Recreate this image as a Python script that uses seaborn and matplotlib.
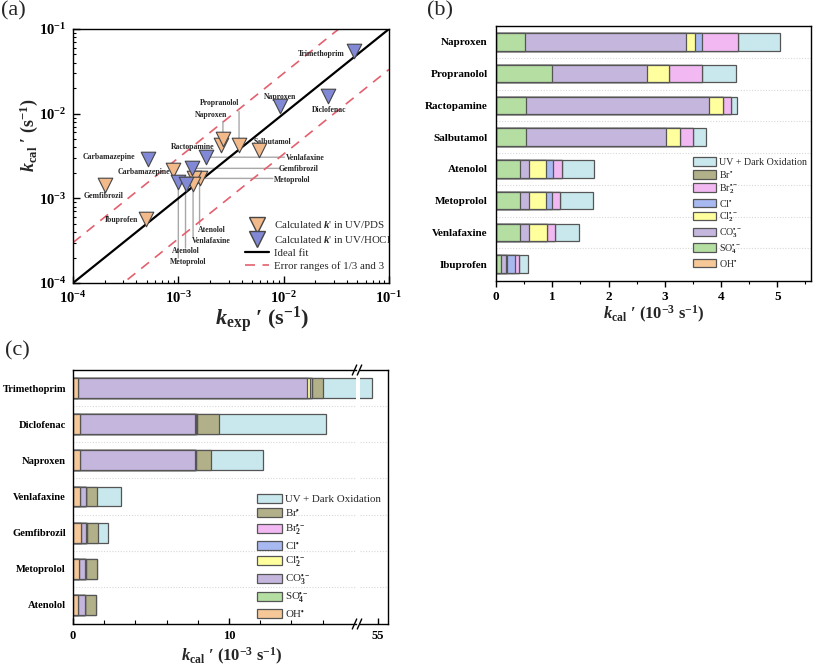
import matplotlib
matplotlib.use("Agg")
import numpy as np
import pandas as pd
import matplotlib.pyplot as plt
import seaborn as sns
from matplotlib.patches import Patch
from matplotlib.lines import Line2D
from matplotlib.ticker import FixedLocator, LogLocator, NullFormatter

# ---------------- data: panel (a) ----------------
pds_names = ["Gemfibrozil", "Ibuprofen", "Carbamazepine", "Ractopamine", "Naproxen",
             "Propranolol", "Salbutamol", "Atenolol", "Metoprolol", "Venlafaxine"]
pds_kexp = [2.0e-4, 4.9e-4, 8.9e-4, 2.56e-3, 2.65e-3, 3.77e-3, 5.8e-3, 1.59e-3, 1.41e-3, 1.38e-3]
pds_kcal = [1.43e-3, 5.7e-4, 2.18e-3, 4.29e-3, 5.04e-3, 4.26e-3, 3.73e-3, 1.75e-3, 1.72e-3, 1.47e-3]

hocl_names = ["Trimethoprim", "Diclofenac", "Naproxen", "Carbamazepine", "Venlafaxine",
              "Gemfibrozil", "Metoprolol", "Atenolol"]
hocl_kexp = [0.047, 0.0265, 9.2e-3, 5.1e-4, 1.84e-3, 1.34e-3, 1.0e-3, 1.17e-3]
hocl_kcal = [0.0547, 0.0162, 0.0122, 2.9e-3, 3.06e-3, 2.26e-3, 1.54e-3, 1.47e-3]

ref_x = [1e-4, 1e-1]

# ---------------- data: panel (b) (UV/PDS, 1e-3 s^-1) ----------------
b_categories = ["Naproxen", "Propranolol", "Ractopamine", "Salbutamol",
                "Atenolol", "Metoprolol", "Venlafaxine", "Ibuprofen"]
b_OH  = [0.0, 0.0, 0.0, 0.0, 0.0, 0.0, 0.0, 0.0]
b_SO4 = [0.51, 0.99, 0.54, 0.54, 0.43, 0.43, 0.43, 0.095]
b_CO3 = [2.86, 1.69, 3.25, 2.48, 0.16, 0.15, 0.16, 0.085]
b_Cl2 = [0.17, 0.39, 0.25, 0.25, 0.30, 0.31, 0.32, 0.01]
b_Cl  = [0.12, 0.0, 0.0, 0.0, 0.13, 0.10, 0.0, 0.15]
b_Br2 = [0.65, 0.59, 0.13, 0.24, 0.15, 0.15, 0.13, 0.06]
b_Br  = [0.0, 0.0, 0.0, 0.0, 0.0, 0.0, 0.0, 0.0]
b_UV  = [0.73, 0.60, 0.12, 0.22, 0.58, 0.58, 0.43, 0.17]

# ---------------- data: panel (c) (UV/HOCl, 1e-3 s^-1) ----------------
c_categories = ["Trimethoprim", "Diclofenac", "Naproxen", "Venlafaxine",
                "Gemfibrozil", "Metoprolol", "Atenolol"]
c_OH  = [0.32, 0.42, 0.42, 0.42, 0.50, 0.40, 0.35]
c_SO4 = [0.0, 0.0, 0.0, 0.0, 0.0, 0.0, 0.0]
c_CO3 = [14.70, 7.38, 7.38, 0.39, 0.35, 0.39, 0.40]
c_Cl2 = [0.17, 0.08, 0.0, 0.0, 0.0, 0.0, 0.0]
c_Cl  = [0.10, 0.06, 0.06, 0.05, 0.04, 0.04, 0.04]
c_Br2 = [0.0, 0.0, 0.0, 0.0, 0.0, 0.0, 0.0]
c_Br  = [0.71, 1.44, 0.96, 0.66, 0.69, 0.71, 0.68]
c_UV  = [38.6, 6.82, 3.34, 1.54, 0.68, 0.0, 0.0]

components = ["OH", "SO4", "CO3", "Cl2", "Cl", "Br2", "Br", "UV"]
comp_labels = {
    "UV": "UV + Dark Oxidation",
    "Br": r"Br$^{•}$",
    "Br2": r"Br$_2^{•-}$",
    "Cl": r"Cl$^{•}$",
    "Cl2": r"Cl$_2^{•-}$",
    "CO3": r"CO$_3^{•-}$",
    "SO4": r"SO$_4^{•-}$",
    "OH": r"OH$^{•}$",
}
comp_colors = {
    "UV": "#c8e8ee",
    "Br": "#b2b088",
    "Br2": "#f2b8f2",
    "Cl": "#a8b8f0",
    "Cl2": "#ffff9e",
    "CO3": "#c4b6dc",
    "SO4": "#b4dea2",
    "OH": "#f6c898",
}
EDGE = "#555555"

# ---------------- style ----------------
sns.set_theme(style="ticks")
plt.rcParams["font.family"] = ["Liberation Serif", "DejaVu Serif"]
plt.rcParams["font.weight"] = "bold"
plt.rcParams["axes.labelweight"] = "bold"
plt.rcParams["mathtext.fontset"] = "custom"
plt.rcParams["mathtext.rm"] = "Liberation Serif"
plt.rcParams["mathtext.it"] = "Liberation Serif:italic"
plt.rcParams["mathtext.bf"] = "Liberation Serif:bold"
plt.rcParams["mathtext.bfit"] = "Liberation Serif:bold:italic"
plt.rcParams["axes.edgecolor"] = "black"
plt.rcParams["axes.linewidth"] = 1.0
plt.rcParams["xtick.color"] = "black"
plt.rcParams["ytick.color"] = "black"

W, H = 813, 670
fig = plt.figure(figsize=(W / 100, H / 100), dpi=100)


def px_axes(l, t, r, b):
    return fig.add_axes([l / W, 1 - b / H, (r - l) / W, (b - t) / H])


# ================= panel (a) =================
axA = px_axes(73, 29, 389, 283)
sns.lineplot(x=ref_x, y=ref_x, color="black", lw=1.6, ax=axA, estimator=None, zorder=2)
sns.lineplot(x=ref_x, y=[3 * v for v in ref_x], color="#e4606e", lw=1.2, ax=axA,
             estimator=None, zorder=2).lines[-1].set_dashes((6, 4.5))
sns.lineplot(x=ref_x, y=[v / 3 for v in ref_x], color="#e4606e", lw=1.2, ax=axA,
             estimator=None, zorder=2).lines[-1].set_dashes((6, 4.5))

ORANGE = "#f2b98a"
BLUE = "#8189d6"
MEDGE = "#454545"
sns.scatterplot(x=pds_kexp, y=pds_kcal, marker="v", s=110, color=ORANGE,
                edgecolor=MEDGE, linewidth=0.8, ax=axA, legend=False, zorder=4)
sns.scatterplot(x=hocl_kexp, y=hocl_kcal, marker="v", s=110, color=BLUE,
                edgecolor=MEDGE, linewidth=0.8, ax=axA, legend=False, zorder=4)
axA.set_xscale("log")
axA.set_yscale("log")
axA.set_xlim(1e-4, 1e-1)
axA.set_ylim(1e-4, 1e-1)
for axis in (axA.xaxis, axA.yaxis):
    axis.set_major_locator(LogLocator(base=10, numticks=10))
    axis.set_minor_locator(LogLocator(base=10, subs=np.arange(2, 10), numticks=10))
    axis.set_minor_formatter(NullFormatter())
axA.tick_params(which="major", direction="in", length=5, width=1, labelsize=10.5, pad=5)
axA.tick_params(which="minor", direction="in", length=2.5, width=0.8)

# point labels (text centre positions)
pt_labels = [
    ("hocl", "Trimethoprim", 0.0225, 0.0507),
    ("hocl", "Naproxen", 9.17e-3, 0.0158),
    ("hocl", "Diclofenac", 0.0273, 0.0111),
    ("pds", "Propranolol", 2.47e-3, 0.0134),
    ("pds", "Naproxen", 2.06e-3, 9.7e-3),
    ("pds", "Ractopamine", 1.36e-3, 4.07e-3),
    ("pds", "Salbutamol", 7.8e-3, 4.59e-3),
    ("hocl", "Carbamazepine", 2.2e-4, 3.05e-3),
    ("pds", "Carbamazepine", 4.69e-4, 2.05e-3),
    ("pds", "Gemfibrozil", 1.93e-4, 1.08e-3),
    ("pds", "Ibuprofen", 2.88e-4, 5.6e-4),
    ("hocl", "Venlafaxine", 0.0162, 2.99e-3),
    ("hocl", "Gemfibrozil", 0.0140, 2.22e-3),
    ("pds", "Metoprolol", 0.0120, 1.65e-3),
    ("pds", "Atenolol", 2.07e-3, 4.19e-4),
    ("pds", "Venlafaxine", 2.07e-3, 3.16e-4),
    ("hocl", "Atenolol", 1.18e-3, 2.37e-4),
    ("hocl", "Metoprolol", 1.25e-3, 1.77e-4),
]
for ser, name, tx, ty in pt_labels:
    axA.text(tx, ty, name, fontsize=5.6, fontweight="bold", ha="center", va="center", zorder=3)

# leader lines: (series, name, orientation, end coordinate)
leaders = [
    ("pds", "Propranolol", "v", 0.0106),
    ("pds", "Naproxen", "v", 8.1e-3),
    ("pds", "Atenolol", "v", 4.9e-4),
    ("pds", "Venlafaxine", "v", 3.5e-4),
    ("hocl", "Atenolol", "v", 2.59e-4),
    ("hocl", "Metoprolol", "v", 1.97e-4),
    ("hocl", "Venlafaxine", "h", 0.0102),
    ("hocl", "Gemfibrozil", "h", 9.17e-3),
    ("pds", "Metoprolol", "h", 7.9e-3),
]
for ser, name, orient, end in leaders:
    names, xs, ys = (pds_names, pds_kexp, pds_kcal) if ser == "pds" else (hocl_names, hocl_kexp, hocl_kcal)
    i = names.index(name)
    mx, my = xs[i], ys[i]
    end_pt = (mx, end) if orient == "v" else (end, my)
    axA.annotate("", xy=(mx, my), xytext=end_pt,
                 arrowprops=dict(arrowstyle="-", color="#a8a8a8", lw=1.0, shrinkA=0, shrinkB=0),
                 zorder=1)

leg_handles = [
    Line2D([], [], marker="v", ls="none", markersize=11, markerfacecolor=ORANGE, markeredgecolor=MEDGE),
    Line2D([], [], marker="v", ls="none", markersize=11, markerfacecolor=BLUE, markeredgecolor=MEDGE),
    Line2D([], [], color="black", lw=1.6),
    Line2D([], [], color="#e4606e", lw=1.2, dashes=(6, 4.5)),
]
leg_labels = ["Calculated $k$' in UV/PDS", "Calculated $k$' in UV/HOCl",
              "Ideal fit", "Error ranges of 1/3 and 3"]
axA.legend(leg_handles, leg_labels, loc="upper left", bbox_to_anchor=(0.545, 0.25),
           frameon=False, prop={"size": 7.8, "weight": "normal"}, handlelength=2.2,
           handletextpad=0.5, labelspacing=0.3, borderpad=0, borderaxespad=0)
axA.set_xlabel(r"$\mathbfit{k}_{\mathbf{exp}}$ ′ (s$^{\mathbf{-1}}$)", fontsize=16)
axA.set_ylabel(r"$\mathbfit{k}_{\mathbf{cal}}$ ′ (s$^{\mathbf{-1}}$)", fontsize=13)
axA.xaxis.set_label_coords(0.6, -0.085)
axA.yaxis.set_label_coords(-0.105, 0.583)


# ================= stacked bar helper =================
def stacked(ax, cats, comp_vals):
    df = pd.DataFrame(comp_vals, index=cats)[components]
    cum = df.cumsum(axis=1)
    for comp in reversed(components):
        sub = pd.DataFrame({"cat": cats, "val": cum[comp].values})
        sns.barplot(data=sub, x="val", y="cat", order=cats, orient="h",
                    color=comp_colors[comp], edgecolor=EDGE, linewidth=0.9,
                    width=0.55, saturation=1, errorbar=None, ax=ax)
    n = len(cats)
    ax.set_ylim(n - 0.5 + 0.03, -0.5)
    ax.set_ylabel("")
    ax.set_xlabel("")
    ax.yaxis.set_minor_locator(FixedLocator([i + 0.5 for i in range(n - 1)]))
    ax.grid(which="minor", axis="y", ls=(0, (1, 1.5)), color="#d8d8d8", lw=0.8)
    ax.set_axisbelow(True)


def comp_legend_handles():
    order = list(reversed(components))
    hs = [Patch(facecolor=comp_colors[c], edgecolor=EDGE, linewidth=0.9) for c in order]
    ls = [comp_labels[c] for c in order]
    return hs, ls


# ================= panel (b) =================
axB = px_axes(496, 26, 811, 281)
b_vals = {"OH": b_OH, "SO4": b_SO4, "CO3": b_CO3, "Cl2": b_Cl2, "Cl": b_Cl,
          "Br2": b_Br2, "Br": b_Br, "UV": b_UV}
stacked(axB, b_categories, b_vals)
axB.set_xlim(0, 5.6)
axB.set_xticks([0, 1, 2, 3, 4, 5])
axB.xaxis.set_minor_locator(FixedLocator([0.5, 1.5, 2.5, 3.5, 4.5, 5.5]))
axB.tick_params(axis="x", which="major", direction="out", length=4, width=1, labelsize=9.5, pad=3)
axB.tick_params(axis="x", which="minor", direction="out", length=2.5, width=0.8)
axB.tick_params(axis="y", which="both", length=0, labelsize=8, pad=6)
hs, ls = comp_legend_handles()
axB.legend(hs, ls, loc="upper left", bbox_to_anchor=(0.625, 0.485), frameon=False,
           prop={"size": 7.2, "weight": "normal"}, handlelength=2.3, handleheight=0.9,
           handletextpad=0.3, labelspacing=0.2, borderpad=0, borderaxespad=0)
axB.set_xlabel(r"$\mathbfit{k}_{\mathbf{cal}}$ ′ (10$^{\mathbf{-3}}$ s$^{\mathbf{-1}}$)", fontsize=12)
axB.xaxis.set_label_coords(0.5, -0.09)

# ================= panel (c) (broken x axis) =================
axC1 = px_axes(73, 370, 356, 624)
axC2 = px_axes(360, 370, 388, 624)
c_vals = {"OH": c_OH, "SO4": c_SO4, "CO3": c_CO3, "Cl2": c_Cl2, "Cl": c_Cl,
          "Br2": c_Br2, "Br": c_Br, "UV": c_UV}
stacked(axC1, c_categories, c_vals)
stacked(axC2, c_categories, c_vals)
axC1.set_xlim(0, 18.14)
axC2.set_xlim(53.846, 55.641)
axC1.set_xticks([0, 10])
axC1.xaxis.set_minor_locator(FixedLocator([2, 4, 6, 8, 12, 14, 16]))
axC2.set_xticks([55])
axC1.spines["right"].set_visible(False)
axC2.spines["left"].set_visible(False)
axC2.set_yticklabels([])
for ax in (axC1, axC2):
    ax.tick_params(axis="x", which="major", direction="in", length=4, width=1, labelsize=9, pad=4)
    ax.tick_params(axis="x", which="minor", direction="in", length=3, width=0.8)
    ax.tick_params(axis="y", which="both", length=0, labelsize=7.6, pad=5)

# break marks
for xp in (354.5, 359.5):
    for yp in (370, 624):
        fig.add_artist(Line2D([(xp - 2.2) / W, (xp + 2.2) / W],
                              [1 - (yp + 5) / H, 1 - (yp - 5) / H],
                              color="black", lw=1.0))

hs, ls = comp_legend_handles()
fig.legend(hs, ls, loc="upper left", bbox_to_anchor=(257 / W, 1 - 494 / H), frameon=False,
           prop={"size": 7.8, "weight": "normal"}, handlelength=2.3, handleheight=0.9,
           handletextpad=0.3, labelspacing=0.27, borderpad=0, borderaxespad=0)
fig.text(232 / W, 1 - 646 / H,
         r"$\mathbfit{k}_{\mathbf{cal}}$ ′ (10$^{\mathbf{-3}}$ s$^{\mathbf{-1}}$)",
         fontsize=12, fontweight="bold", ha="center", va="top")

# panel letters
fig.text(1 / W, 1 - 1 / H, "(a)", fontsize=16, fontweight="normal", ha="left", va="top")
fig.text(427 / W, 1 - 1 / H, "(b)", fontsize=16, fontweight="normal", ha="left", va="top")
fig.text(5 / W, 1 - 341 / H, "(c)", fontsize=16, fontweight="normal", ha="left", va="top")

fig.savefig("out.png", dpi=100)
